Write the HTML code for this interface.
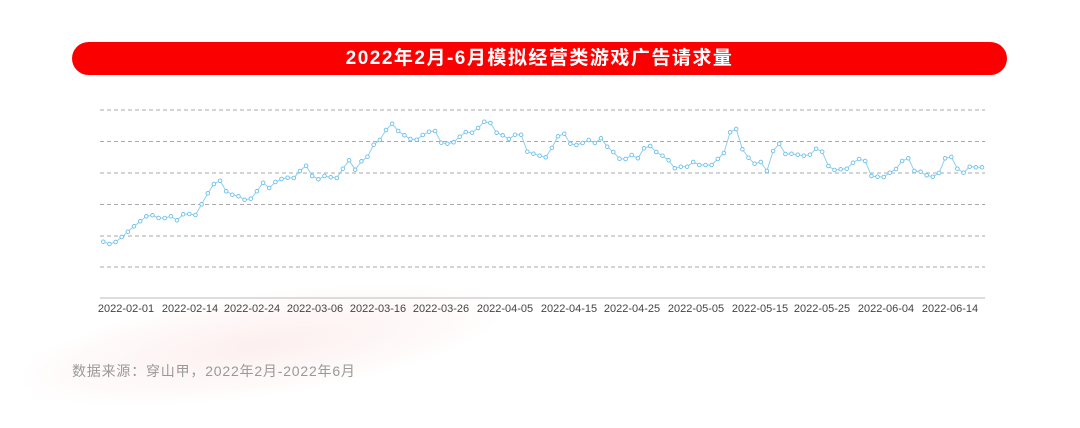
<!DOCTYPE html>
<html><head><meta charset="utf-8"><style>
body{margin:0;width:1080px;height:400px;overflow:hidden;background:#fff;font-family:"Liberation Sans","Noto Sans CJK SC",sans-serif;position:relative}
.blob{position:absolute;left:20px;top:295px;width:480px;height:100px;border-radius:50%;background:radial-gradient(ellipse at center,rgba(250,220,220,0.45),rgba(255,235,235,0.2) 60%,rgba(255,255,255,0) 75%);transform:rotate(-8deg)}
.title{position:absolute;left:72px;top:42px;width:935px;height:33px;background:#fb0000;border-radius:17px;color:#fff;font-size:19px;font-weight:bold;text-align:center;line-height:33px;letter-spacing:1.5px}
.src{position:absolute;left:72px;top:361px;font-size:14px;color:#999;letter-spacing:0.8px}
svg{position:absolute;left:0;top:0}
</style></head><body>
<div class="blob"></div>
<div class="title">2022年2月-6月模拟经营类游戏广告请求量</div>
<svg id="c" width="1080" height="400"></svg>
<div class="src">数据来源：穿山甲，2022年2月-2022年6月</div>
<script>
var z=[425,432,426,411,395,379,364,349,346,354,354,349,361,343,342,345,313,280,252,242,274,284,289,299,296,274,248,264,246,237,233,234,213,197,228,238,228,232,234,206,181,209,184,170,134,120,90,71,93,106,117,119,105,95,93,128,131,127,110,96,98,84,65,69,98,106,117,104,104,155,
161,167,172,143,109,101,131,135,129,120,129,115,140,156,176,177,165,175,145,138,156,167,181,205,200,200,186,195,195,195,177,159,97,87,148,173,191,186,213,153,131,162,161,164,167,164,146,155,198,210,208,206,188,177,183,228,230,231,218,207,183,175,213,215,226,230,219,175,171,206,218,200,202,202];
var s='';
[110,141.5,173,204.5,236,267].forEach(function(y){s+='<line x1="100" x2="985" y1="'+y+'" y2="'+y+'" stroke="#aaa" stroke-width="1" stroke-dasharray="4,3"/>';});
s+='<line x1="100" x2="985" y1="298" y2="298" stroke="#bbb" stroke-width="1"/>';
var st=(982-103.3)/(z.length-1),pts=[];
z.forEach(function(v,i){pts.push((103.3+i*st).toFixed(1)+','+(100+v/3).toFixed(1));});
s+='<polyline points="'+pts.join(' ')+'" fill="none" stroke="#8fd0f0" stroke-width="1"/>';
pts.forEach(function(p){var a=p.split(',');s+='<circle cx="'+a[0]+'" cy="'+a[1]+'" r="1.8" fill="#fff" stroke="#6cc0ee" stroke-width="0.9"/>';});
var L=['2022-02-01','2022-02-14','2022-02-24','2022-03-06','2022-03-16','2022-03-26','2022-04-05','2022-04-15','2022-04-25','2022-05-05','2022-05-15','2022-05-25','2022-06-04','2022-06-14'];
var C=[126,190,252,315,378,441,505,569,632,696,760,822,886,950];
L.forEach(function(t,i){s+='<text x="'+C[i]+'" y="312" font-size="11" fill="#444" text-anchor="middle" font-family="Liberation Sans, sans-serif">'+t+'</text>';});
document.getElementById('c').innerHTML=s;
</script>
</body></html>
